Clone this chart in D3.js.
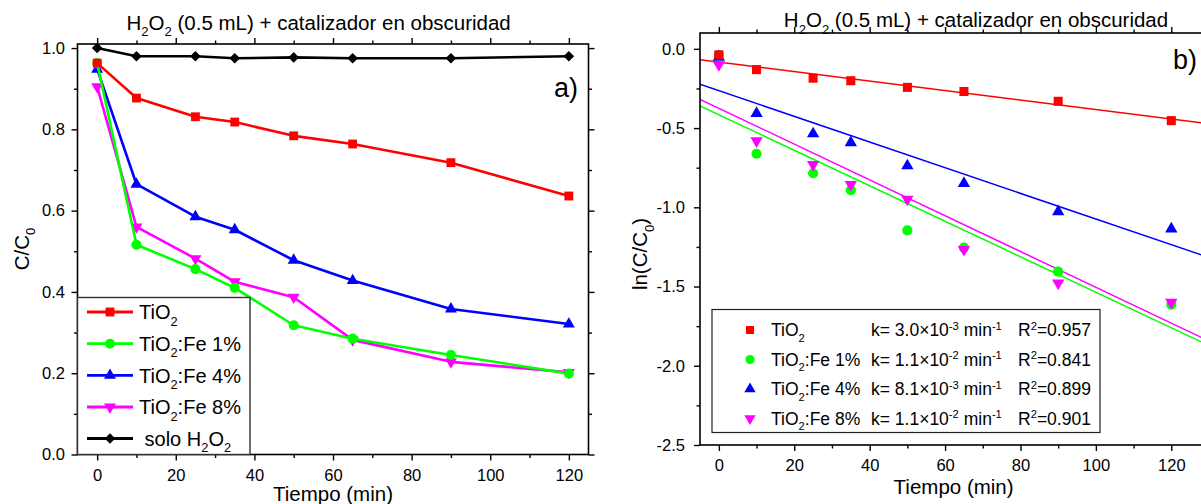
<!DOCTYPE html>
<html>
<head>
<meta charset="utf-8">
<script src="https://cdn.jsdelivr.net/npm/d3@7"></script>
<style>
  body { margin: 0; background: #fff; }
  svg { display: block; }
  text { font-family: "Liberation Sans", Arial, sans-serif; fill: #000; white-space: pre; }
</style>
</head>
<body>
<svg id="chart" width="1201" height="504"></svg>
<script>
// ---- data ----
const times = [0, 10, 25, 35, 50, 65, 90, 120];

// C/C0 under dark conditions
const ratioTiO2 = [0.963, 0.877, 0.831, 0.818, 0.784, 0.764, 0.718, 0.636];
const ratioFe1  = [0.963, 0.516, 0.456, 0.410, 0.318, 0.285, 0.245, 0.199];
const ratioFe4  = [0.948, 0.665, 0.585, 0.553, 0.478, 0.428, 0.358, 0.321];
const ratioFe8  = [0.905, 0.560, 0.482, 0.425, 0.387, 0.282, 0.228, 0.202];
const ratioH2O2 = [1.000, 0.980, 0.980, 0.975, 0.977, 0.975, 0.975, 0.980];

// ln(C/C0)
const lnTiO2 = [-0.038, -0.131, -0.185, -0.201, -0.243, -0.269, -0.331, -0.453];
const lnFe1  = [-0.038, -0.662, -0.785, -0.892, -1.146, -1.255, -1.406, -1.614];
const lnFe4  = [-0.053, -0.408, -0.536, -0.592, -0.738, -0.849, -1.027, -1.136];
const lnFe8  = [-0.100, -0.580, -0.730, -0.856, -0.949, -1.266, -1.478, -1.600];

// pseudo-first-order fits: ln(C/C0) = intercept - k t
const fitK         = [0.0030, 0.0112, 0.0081, 0.0113];
const fitIntercept = [-0.083, -0.416, -0.264, -0.375];
const kText  = ["3.0", "1.1", "8.1", "1.1"];
const kExp   = ["-3", "-2", "-3", "-2"];
const r2Text = ["0.957", "0.841", "0.899", "0.901"];

const namesA = ["TiO_{2}", "TiO_{2}:Fe 1%", "TiO_{2}:Fe 4%", "TiO_{2}:Fe 8%", " solo H_{2}O_{2}"];
const namesB = ["TiO_{2}", "TiO_{2}:Fe 1%", "TiO_{2}:Fe 4%", "TiO_{2}:Fe 8%"];
const colors = ["#ff0000", "#00ff00", "#0000ff", "#ff00ff", "#000000"];
const shapes = ["square", "circle", "up", "down", "diamond"];

const xTicks = [0, 20, 40, 60, 80, 100, 120];
const xMinor = [-5, 10, 30, 50, 70, 90, 110];
const yTicksA = [0, 0.2, 0.4, 0.6, 0.8, 1.0];
const yMinorA = [0.1, 0.3, 0.5, 0.7, 0.9];
const yTicksB = [0, -0.5, -1.0, -1.5, -2.0, -2.5];
const yMinorB = [-0.25, -0.75, -1.25, -1.75, -2.25];
const title = "H_{2}O_{2} (0.5 mL) + catalizador en obscuridad";

const svg = d3.select("#chart");

// text with _{sub} and ^{sup} runs
function rich(sel, str, size) {
  const re = /([_^])\{([^}]*)\}/g;
  const parts = [];
  let last = 0, m;
  while ((m = re.exec(str))) {
    if (m.index > last) parts.push({ t: str.slice(last, m.index), k: 0 });
    parts.push({ t: m[2], k: m[1] === "_" ? 1 : -1 });
    last = re.lastIndex;
  }
  if (last < str.length) parts.push({ t: str.slice(last), k: 0 });
  let cur = 0;
  parts.forEach(p => {
    const target = p.k === 1 ? 0.32 * size : p.k === -1 ? -0.38 * size : 0;
    sel.append("tspan")
      .attr("dy", target - cur)
      .attr("font-size", p.k ? size * 0.64 : size)
      .text(p.t);
    cur = target;
  });
  return sel;
}

function symbolPath(shape, s) {
  if (shape === "square") return d3.symbol(d3.symbolSquare, s.square)();
  if (shape === "circle") return d3.symbol(d3.symbolCircle, s.circle)();
  if (shape === "up" || shape === "down") return d3.symbol(d3.symbolTriangle, s.tri)();
  return d3.symbol(d3.symbolSquare, s.diamond)();
}
function symbolRot(shape) {
  if (shape === "down") return 180;
  if (shape === "diamond") return 45;
  return 0;
}

function drawMarker(g, shape, color, x, y, s) {
  g.append("path")
    .attr("d", symbolPath(shape, s))
    .attr("transform", `translate(${x},${y}) rotate(${symbolRot(shape)})`)
    .attr("fill", color);
}

function frameAxes(g, x, y, o) {
  const fs = 16.5;
  const styleAxis = a => {
    a.select(".domain").remove();
    a.selectAll("line").attr("stroke", "#000").attr("stroke-width", 1.4);
    a.selectAll("text").attr("font-size", fs).attr("font-family", null).attr("fill", "#000");
  };
  const [x0, x1] = x.range();
  const [y0, y1] = y.range();
  // major + minor ticks on all four sides, pointing outward
  g.append("g").attr("transform", `translate(0,${y0})`)
    .call(d3.axisBottom(x).tickValues(xTicks).tickSize(6).tickPadding(o.xPad).tickFormat(d3.format("d"))).call(styleAxis);
  g.append("g").attr("transform", `translate(0,${y0})`)
    .call(d3.axisBottom(x).tickValues(xMinor.filter(v => v > x.domain()[0])).tickSize(3.5).tickFormat("")).call(styleAxis);
  g.append("g").attr("transform", `translate(0,${y1})`)
    .call(d3.axisTop(x).tickValues(xTicks).tickSize(6).tickFormat("")).call(styleAxis);
  g.append("g").attr("transform", `translate(0,${y1})`)
    .call(d3.axisTop(x).tickValues(xMinor.filter(v => v > x.domain()[0])).tickSize(3.5).tickFormat("")).call(styleAxis);
  g.append("g").attr("transform", `translate(${x0},0)`)
    .call(d3.axisLeft(y).tickValues(o.yTicks).tickSize(6).tickPadding(o.yPad).tickFormat(d3.format(".1f"))).call(styleAxis);
  g.append("g").attr("transform", `translate(${x0},0)`)
    .call(d3.axisLeft(y).tickValues(o.yMinor).tickSize(3.5).tickFormat("")).call(styleAxis);
  g.append("g").attr("transform", `translate(${x1},0)`)
    .call(d3.axisRight(y).tickValues(o.yTicks).tickSize(6).tickFormat("")).call(styleAxis);
  g.append("g").attr("transform", `translate(${x1},0)`)
    .call(d3.axisRight(y).tickValues(o.yMinor).tickSize(3.5).tickFormat("")).call(styleAxis);
  g.selectAll("text").text(function () { return this.textContent.replace("\u2212", "-"); });
  g.append("rect")
    .attr("x", x0).attr("y", y1).attr("width", x1 - x0).attr("height", y0 - y1)
    .attr("fill", "none").attr("stroke", "#000").attr("stroke-width", 1.6);
}

// ================= panel a) =================
{
  const x = d3.scaleLinear([-5, 125], [77.5, 588.5]);
  const y = d3.scaleLinear([0, 1.01], [454.5, 44]);
  const g = svg.append("g");
  const series = [ratioTiO2, ratioFe1, ratioFe4, ratioFe8, ratioH2O2];
  const sz = { square: 78, circle: 80, tri: 62, diamond: 56 };
  const line = d3.line().x((d, i) => x(times[i])).y(d => y(d));

  // draw order so the black and red sit on top where they meet
  [3, 2, 1, 0, 4].forEach(k => {
    g.append("path").datum(series[k]).attr("d", line)
      .attr("fill", "none").attr("stroke", colors[k]).attr("stroke-width", 2.6)
      .attr("stroke-linejoin", "round");
    series[k].forEach((v, i) => drawMarker(g, shapes[k], colors[k], x(times[i]), y(v), sz));
  });

  frameAxes(g, x, y, { yTicks: yTicksA, yMinor: yMinorA, xPad: 8.8, yPad: 6.5 });

  // legend
  const lg = g.append("g");
  lg.append("rect").attr("x", 77.5).attr("y", 297.5).attr("width", 172.5).attr("height", 157)
    .attr("fill", "#fff").attr("stroke", "#333").attr("stroke-width", 1.4);
  const rowsY = [312, 343.7, 375.3, 407, 438.5];
  namesA.forEach((nm, k) => {
    lg.append("line").attr("x1", 87).attr("x2", 133).attr("y1", rowsY[k]).attr("y2", rowsY[k])
      .attr("stroke", colors[k]).attr("stroke-width", 2.8);
    drawMarker(lg, shapes[k], colors[k], 110, rowsY[k], sz);
    rich(lg.append("text").attr("x", 139).attr("y", rowsY[k] + 7.2).attr("font-size", 20), nm, 20);
  });

  rich(g.append("text").attr("x", 318.6).attr("y", 29.8).attr("text-anchor", "middle").attr("font-size", 20.5), title, 20.5);
  g.append("text").attr("x", 578).attr("y", 97).attr("text-anchor", "end").attr("font-size", 27).text("a)");
  g.append("text").attr("x", 333).attr("y", 501).attr("text-anchor", "middle").attr("font-size", 20.5).text("Tiempo (min)");
  rich(g.append("text").attr("transform", "translate(28.5,249) rotate(-90)").attr("text-anchor", "middle").attr("font-size", 20.5), "C/C_{0}", 20.5);
}

// ================= panel b) =================
{
  const x = d3.scaleLinear([-5, 130], [700, 1209]);
  const y = d3.scaleLinear([-2.5, 0.1], [445, 33]);
  const g = svg.append("g");
  const series = [lnTiO2, lnFe1, lnFe4, lnFe8];
  const sz = { square: 82, circle: 82, tri: 66, diamond: 56 };

  svg.append("clipPath").attr("id", "clipB").append("rect")
    .attr("x", 700).attr("y", 33).attr("width", 509).attr("height", 412);

  const fitT = [-5, 130];
  [2, 1, 3, 0].forEach(k => {
    g.append("path")
      .datum(fitT.map(t => [t, fitIntercept[k] - fitK[k] * t]))
      .attr("d", d3.line().x(d => x(d[0])).y(d => y(d[1])))
      .attr("clip-path", "url(#clipB)")
      .attr("fill", "none").attr("stroke", colors[k]).attr("stroke-width", 1.5);
  });
  [1, 2, 3, 0].forEach(k => {
    series[k].forEach((v, i) => drawMarker(g, shapes[k], colors[k], x(times[i]), y(v), sz));
  });

  frameAxes(g, x, y, { yTicks: yTicksB, yMinor: yMinorB, xPad: 8.5, yPad: 9 });

  // legend
  const lg = g.append("g");
  lg.append("rect").attr("x", 712).attr("y", 309.5).attr("width", 388).attr("height", 123)
    .attr("fill", "#fff").attr("stroke", "#222").attr("stroke-width", 1.2);
  const rowsY = [330, 359.5, 389, 418.5];
  const lsz = { square: 64, circle: 66, tri: 56, diamond: 50 };
  namesB.forEach((nm, k) => {
    drawMarker(lg, shapes[k], colors[k], 750, rowsY[k], lsz);
    const by = rowsY[k] + 6.2;
    rich(lg.append("text").attr("x", 771).attr("y", by).attr("font-size", 17.5), nm, 17.5);
    rich(lg.append("text").attr("x", 871).attr("y", by).attr("font-size", 17.5),
      `k= ${kText[k]}\u00d710^{${kExp[k]}} min^{-1}`, 17.5);
    rich(lg.append("text").attr("x", 1018).attr("y", by).attr("font-size", 17.5),
      `R^{2}=${r2Text[k]}`, 17.5);
  });

  rich(g.append("text").attr("x", 976).attr("y", 27).attr("text-anchor", "middle").attr("font-size", 20.5), title, 20.5);
  g.append("text").attr("x", 1173).attr("y", 69).attr("font-size", 27).text("b)");
  g.append("text").attr("x", 953.6).attr("y", 494).attr("text-anchor", "middle").attr("font-size", 20.5).text("Tiempo (min)");
  rich(g.append("text").attr("transform", "translate(647,254) rotate(-90)").attr("text-anchor", "middle").attr("font-size", 20.5), "ln(C/C_{0})", 20.5);
}
</script>
</body>
</html>
